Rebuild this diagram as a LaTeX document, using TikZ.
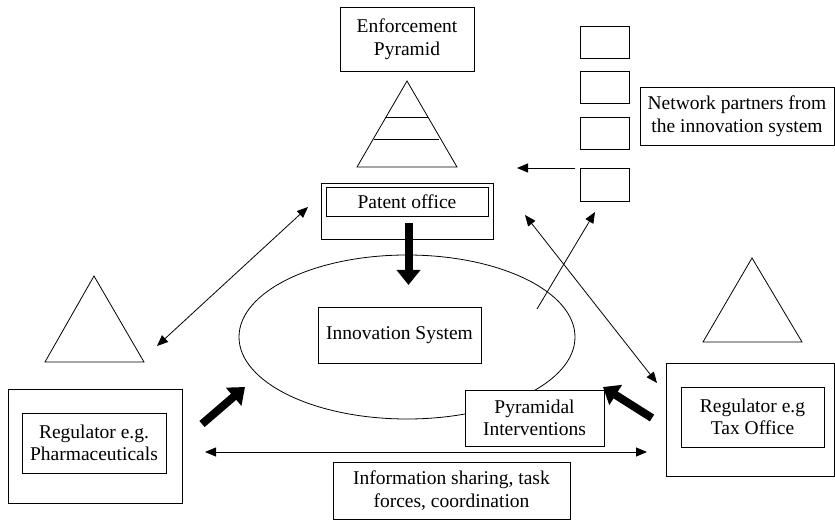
\documentclass[tikz,border=0pt]{standalone}
\usepackage{fontspec}
\setmainfont{Liberation Serif}
\usetikzlibrary{arrows.meta}
\begin{document}
\begin{tikzpicture}[x=1pt,y=-1pt,
  line width=0.8pt,
  every node/.style={font=\fontsize{19.5}{22.5}\selectfont, align=center, inner sep=0pt},
  box/.style={draw, rectangle, fill=white},
  thin arrow/.style={-{Triangle[length=11pt,width=9pt]}},
  both arrow/.style={{Triangle[length=11pt,width=9pt]}-{Triangle[length=11pt,width=9pt]}},
  thick arrow/.style={line width=8pt, -{Triangle[length=15pt,width=23pt]}}]
\useasboundingbox (0,0) rectangle (835,521);

% Enforcement pyramid
\node[box, minimum width=134pt, minimum height=64pt] (enf) at (407,39) {Enforcement\\Pyramid};
\draw (407,81) -- (457,167) -- (357,167) -- cycle;
\draw (386,117) -- (428,117);
\draw (374,139) -- (439,139);

% Patent office
\node[box, minimum width=172pt, minimum height=56pt] (pat) at (407,211) {};
\node[box, minimum width=162pt, minimum height=29pt] (patin) at (407,201.5) {Patent office};

% Network partners
\node[box, minimum width=49pt, minimum height=32pt] (sb1) at (604.5,42) {};
\node[box, minimum width=49pt, minimum height=32pt] (sb2) at (604.5,87) {};
\node[box, minimum width=49pt, minimum height=32pt] (sb3) at (604.5,133) {};
\node[box, minimum width=49pt, minimum height=33pt] (sb4) at (604.5,184.5) {};
\node[box, minimum width=194pt, minimum height=58pt] (net) at (737,116) {Network partners from\\the innovation system};

% Innovation system
\draw (407,337) ellipse [x radius=168, y radius=82];
\coordinate (ell) at (407,337);
\node[box, minimum width=163pt, minimum height=56pt] (inn) at (399.5,335) {Innovation System};
\node[box, minimum width=139pt, minimum height=56pt] (pyr) at (534.5,418) {Pyramidal\\Interventions};

% Tax office
\draw (752,258) -- (802,342) -- (703,342) -- cycle;
\node[box, minimum width=168pt, minimum height=113pt] (tax) at (750,419.5) {};
\node[box, minimum width=143pt, minimum height=60pt] (taxin) at (752.5,417) {Regulator e.g\\Tax Office};

% Pharmaceuticals
\draw (94,276) -- (144,362) -- (45,362) -- cycle;
\node[box, minimum width=174pt, minimum height=114pt] (pha) at (95,446) {};
\node[box, minimum width=144pt, minimum height=60pt] (phain) at (94,443) {Regulator e.g.\\Pharmaceuticals};

% Information sharing
\node[box, minimum width=237pt, minimum height=57pt] (info) at (451.5,490.5) {Information sharing, task\\forces, coordination};

% connector end points
\coordinate (patL) at (308,207);
\coordinate (phaT) at (157,346);
\coordinate (patR) at (525,215);
\coordinate (taxT) at (657,383);
\coordinate (ellIn) at (537,309);
\coordinate (sb4B) at (595,212);
\coordinate (netStart) at (575,168);
\coordinate (netEnd) at (517,168);
\coordinate (hL) at (205,452);
\coordinate (hR) at (647,452);

% thin connectors
\draw[both arrow] (patL) -- (phaT);
\draw[both arrow] (patR) -- (taxT);
\draw[thin arrow] (ellIn) -- (sb4B);
\draw[thin arrow] (netStart) -- (netEnd);
\draw[both arrow] (hL) -- (hR);

% thick arrows
\coordinate (patS) at (408.5,223);
\coordinate (patE) at (408.5,285);
\draw[thick arrow] (patS) -- (patE);
\coordinate (phaS) at (202,424);
\coordinate (phaE) at (245,387);
\draw[thick arrow] (phaS) -- (phaE);
\coordinate (taxS) at (652,418);
\coordinate (taxE) at (603,387);
\draw[thick arrow] (taxS) -- (taxE);
\end{tikzpicture}
\end{document}
